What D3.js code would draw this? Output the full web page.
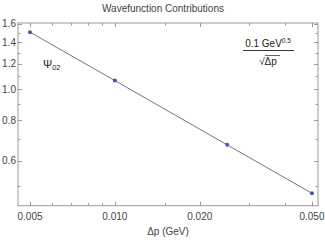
<!DOCTYPE html>
<html>
<head>
<meta charset="utf-8">
<script src="https://cdn.jsdelivr.net/npm/d3@7"></script>
<style>
  body { margin: 0; background: #fff; }
  text { font-family: "Liberation Sans", Arial, sans-serif; }
</style>
</head>
<body>
<div id="chart"></div>
<script>
// data
var deltaP = [0.005, 0.010, 0.025, 0.050];
var psi02 = [1.505, 1.064, 0.672, 0.475];
var xTicks = [0.005, 0.010, 0.020, 0.050];
var xTickLabels = ["0.005", "0.010", "0.020", "0.050"];
var xMinor = [0.006, 0.007, 0.008, 0.009, 0.015, 0.03, 0.04];
var yTicks = [0.6, 0.8, 1.0, 1.2, 1.4, 1.6];
var yMinor = [0.5, 0.7, 0.9, 1.1, 1.3, 1.5];

var W = 325, H = 242,
  m = {left: 18, right: 7, top: 23, bottom: 36.3},
  iw = W - m.left - m.right,
  ih = H - m.top - m.bottom;

var svg = d3.select("#chart").append("svg").attr("width", W).attr("height", H);

var x = d3.scaleLog().domain([0.004533, 0.05252]).range([m.left, m.left + iw]),
  y = d3.scaleLog().domain([0.4346, 1.607]).range([m.top + ih, m.top]);

var frame = svg.append("g");
frame.append("rect")
  .attr("x", m.left).attr("y", m.top).attr("width", iw).attr("height", ih)
  .style("fill", "none").style("stroke", "#999").style("stroke-width", 1);

//刻度，向内
function ticksX(vals, len) {
  vals.forEach(function(v) {
    var px = Math.round(x(v)) + 0.5;
    frame.append("line").attr("x1", px).attr("x2", px)
      .attr("y1", m.top + ih).attr("y2", m.top + ih - len).style("stroke", "#999");
    frame.append("line").attr("x1", px).attr("x2", px)
      .attr("y1", m.top).attr("y2", m.top + len).style("stroke", "#999");
  });
}
function ticksY(vals, len) {
  vals.forEach(function(v) {
    var py = Math.round(y(v)) + 0.5;
    frame.append("line").attr("x1", m.left).attr("x2", m.left + len)
      .attr("y1", py).attr("y2", py).style("stroke", "#999");
    frame.append("line").attr("x1", m.left + iw).attr("x2", m.left + iw - len)
      .attr("y1", py).attr("y2", py).style("stroke", "#999");
  });
}
ticksX(xTicks, 4);
ticksX(xMinor, 2.5);
ticksY(yTicks, 4);
ticksY(yMinor, 2.5);

svg.selectAll(".xl").data(xTicks).enter().append("text")
  .attr("x", function(d) { return x(d); }).attr("y", m.top + ih + 14)
  .attr("text-anchor", "middle").style("font-size", "10px").style("fill", "#444")
  .text(function(d, i) { return xTickLabels[i]; });

svg.selectAll(".yl").data(yTicks).enter().append("text")
  .attr("x", m.left - 2).attr("y", function(d) { return y(d) + 3.5; })
  .attr("text-anchor", "end").style("font-size", "10px").style("fill", "#444")
  .text(function(d) { return d3.format(".1f")(d); });

svg.append("text").attr("x", 163).attr("y", 12).attr("text-anchor", "middle")
  .style("font-size", "10px").style("fill", "#444").text("Wavefunction Contributions");

svg.append("text").attr("x", 168).attr("y", 235).attr("text-anchor", "middle")
  .style("font-size", "10px").style("fill", "#444").text("Δp (GeV)");

var pts = deltaP.map(function(d, i) { return [x(d), y(psi02[i])]; });

svg.append("path").attr("d", d3.line()(pts))
  .style("fill", "none").style("stroke", "#666").style("stroke-width", 0.9);

svg.selectAll(".pt").data(pts).enter().append("circle")
  .attr("cx", function(d) { return d[0]; }).attr("cy", function(d) { return d[1]; })
  .attr("r", 2).style("fill", "#3d5f9e");

// Ψ02 标签
var lab = svg.append("text").attr("x", 43).attr("y", 68).style("font-size", "11px").style("fill", "#222");
lab.append("tspan").text("Ψ");
lab.append("tspan").attr("dy", 2).style("font-size", "7.5px").text("02");

// 公式 0.1 GeV^0.5 / √Δp
var num = svg.append("text").attr("x", 268).attr("y", 47).attr("text-anchor", "middle")
  .style("font-size", "10px").style("fill", "#222");
num.append("tspan").text("0.1 GeV");
num.append("tspan").attr("dy", -4).style("font-size", "6.5px").text("0.5");
svg.append("line").attr("x1", 243).attr("x2", 294).attr("y1", 50.5).attr("y2", 50.5)
  .style("stroke", "#222").style("stroke-width", 0.9);
svg.append("text").attr("x", 268).attr("y", 65).attr("text-anchor", "middle")
  .style("font-size", "10px").style("fill", "#222").text("√Δp");
svg.append("line").attr("x1", 265).attr("x2", 280).attr("y1", 55.5).attr("y2", 55.5)
  .style("stroke", "#222").style("stroke-width", 0.7);
</script>
</body>
</html>
